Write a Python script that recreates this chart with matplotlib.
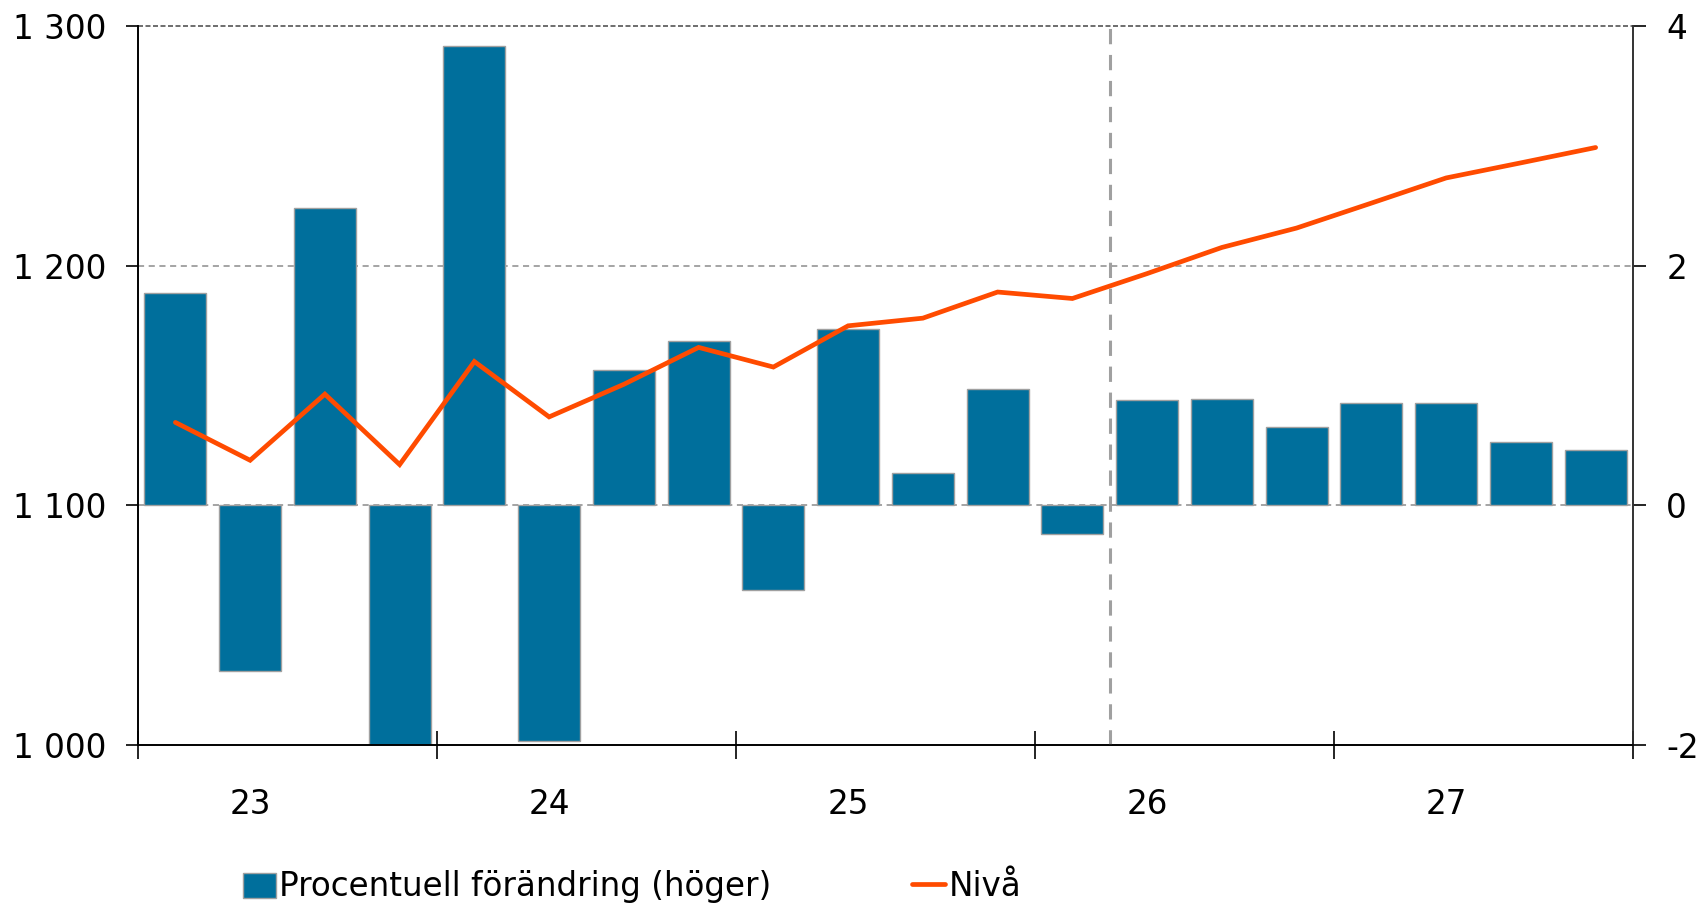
import matplotlib
matplotlib.use("Agg")
import matplotlib.pyplot as plt
import numpy as np

plt.rcParams['font.family'] = ['DejaVu Sans']

quarters = ["23Q1", "23Q2", "23Q3", "23Q4", "24Q1", "24Q2", "24Q3", "24Q4",
            "25Q1", "25Q2", "25Q3", "25Q4", "26Q1", "26Q2", "26Q3", "26Q4",
            "27Q1", "27Q2", "27Q3", "27Q4"]
pct_change = [1.77, -1.38, 2.48, -2.00, 3.83, -1.97, 1.13, 1.37, -0.71, 1.47,
              0.27, 0.97, -0.24, 0.88, 0.89, 0.65, 0.85, 0.85, 0.53, 0.46]
level = [1134.6, 1118.8, 1146.4, 1117.0, 1160.0, 1136.9, 1150.5, 1165.9, 1157.7, 1174.9,
         1178.1, 1189.0, 1186.3, 1196.7, 1207.6, 1215.7, 1226.1, 1236.6, 1242.9, 1249.3]
year_labels = ["23", "24", "25", "26", "27"]
left_ticks = [1000, 1100, 1200, 1300]
left_tick_labels = ["1 000", "1 100", "1 200", "1 300"]
right_ticks = [-2, 0, 2, 4]
forecast_start = 13  # index of first forecast quarter boundary

bar_color = "#006F9C"
line_color = "#FF4B00"
fs = 23.5

fig = plt.figure(figsize=(17.03, 9.05), dpi=100)
ax = fig.add_axes([138/1703, 1-745/905, (1633-138)/1703, (745-26)/905])
ax2 = ax.twinx()

x = np.arange(len(quarters)) + 0.5

# gridlines (on bar axis, behind)
for v in [0, 2]:
    ax2.axhline(v, color="#8c8c8c", lw=1.1, ls=(0, (4, 3)), zorder=0)
ax2.axhline(4, color="#555555", lw=1.2, ls=(0, (3, 1.5)), zorder=0, clip_on=False)

bars = ax2.bar(x, pct_change, width=0.83, color=bar_color, edgecolor="#a0a0a0",
               linewidth=1.0, zorder=2, label="Procentuell förändring (höger)")
ax2.axvline(forecast_start, color="#a0a0a0", lw=2.2, ls=(0, (5, 3.5)), zorder=3)

ax.set_zorder(ax2.get_zorder() + 1)
ax.patch.set_visible(False)
line, = ax.plot(x, level, color=line_color, lw=3.4, zorder=5, label="Nivå",
                solid_capstyle="round", solid_joinstyle="miter")

ax.set_xlim(0, len(quarters))
ax.set_ylim(1000, 1300)
ax2.set_ylim(-2, 4)

ax.set_yticks(left_ticks)
ax.set_yticklabels(left_tick_labels)
ax2.set_yticks(right_ticks)
ax2.set_yticklabels([str(t) for t in right_ticks])

ax.set_xticks(np.arange(0, len(quarters) + 1, 4))
ax.set_xticklabels([])
ax.set_xticks(np.arange(1.5, len(quarters), 4), minor=True)
ax.set_xticklabels(year_labels, minor=True)
ax.tick_params(axis='x', which='major', direction='inout', length=20, width=1.2, color="black")
ax.tick_params(axis='x', which='minor', length=0, pad=31, labelsize=fs)
ax.tick_params(axis='y', direction='out', length=9, width=1.2, labelsize=fs, pad=14)
ax2.tick_params(axis='y', direction='out', length=9, width=1.2, labelsize=fs, pad=15)

for a in (ax, ax2):
    a.spines['top'].set_visible(False)
    a.spines['left'].set_linewidth(1.2)
    a.spines['right'].set_linewidth(1.2)
    a.spines['bottom'].set_linewidth(1.2)
    a.spines['right'].set_color("#333333")

fig.legend(handles=[bars, line], labels=["Procentuell förändring (höger)", "Nivå"],
           loc="center left", bbox_to_anchor=(243/1703, 0.02), ncol=2, frameon=False,
           fontsize=fs, handlelength=1.0, handleheight=0.8, handletextpad=0.1,
           columnspacing=4.33, borderpad=0, borderaxespad=0)

fig.savefig("out.png", dpi=100)
